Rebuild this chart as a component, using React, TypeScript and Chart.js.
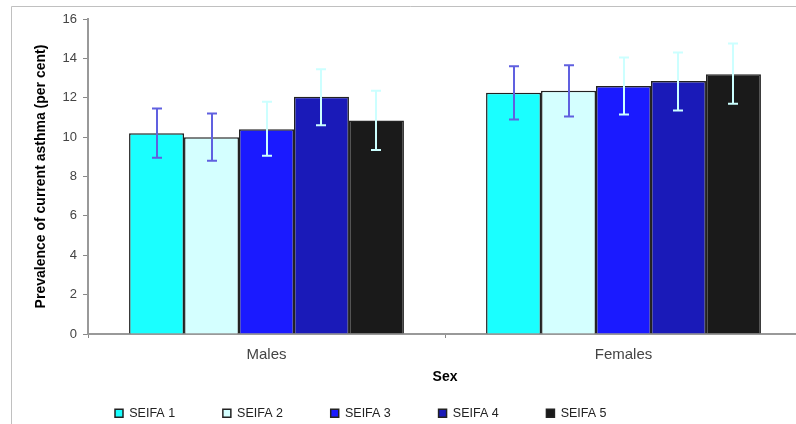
import React, { useEffect, useRef } from 'react';
import { Chart, registerables } from 'chart.js';

Chart.register(...registerables);

const categories = ['Males', 'Females'];
const seriesNames = ['SEIFA 1', 'SEIFA 2', 'SEIFA 3', 'SEIFA 4', 'SEIFA 5'];

const seifa1 = [10.2, 12.25];
const seifa2 = [10.0, 12.35];
const seifa3 = [10.4, 12.6];
const seifa4 = [12.05, 12.85];
const seifa5 = [10.85, 13.2];

const seifa1Low = [8.95, 10.9];
const seifa1High = [11.45, 13.6];
const seifa2Low = [8.8, 11.05];
const seifa2High = [11.2, 13.65];
const seifa3Low = [9.05, 11.15];
const seifa3High = [11.8, 14.05];
const seifa4Low = [10.6, 11.35];
const seifa4High = [13.45, 14.3];
const seifa5Low = [9.35, 11.7];
const seifa5High = [12.35, 14.75];

const yMin = 0;
const yMax = 16;
const yStep = 2;

const barColors = ['#1AFFFF', '#D4FFFF', '#1A1AFF', '#1A1AB8', '#1A1A1A'];
const errColors = ['#6060E0', '#6060E0', '#CCFFFF', '#CCFFFF', '#CCFFFF'];

const FONT = "'Liberation Sans', Arial, sans-serif";
const LEGEND_PAD = 47.75;

const errorBarPlugin = {
  id: 'errorBars',
  afterDatasetsDraw(chart: any) {
    const ctx = chart.ctx;
    const ys = chart.scales.y;
    chart.data.datasets.forEach((ds: any, di: number) => {
      const meta = chart.getDatasetMeta(di);
      meta.data.forEach((bar: any, i: number) => {
        const x = Math.round(bar.x);
        const yLo = ys.getPixelForValue(ds.errLow[i]);
        const yHi = ys.getPixelForValue(ds.errHigh[i]);
        ctx.save();
        ctx.strokeStyle = ds.errColor;
        ctx.lineWidth = 2;
        ctx.beginPath();
        ctx.moveTo(x, yLo);
        ctx.lineTo(x, yHi);
        ctx.moveTo(x - 5, yLo);
        ctx.lineTo(x + 5, yLo);
        ctx.moveTo(x - 5, yHi);
        ctx.lineTo(x + 5, yHi);
        ctx.stroke();
        ctx.restore();
      });
    });
  },
};

const framePlugin = {
  id: 'frame',
  beforeDraw(chart: any) {
    const ctx = chart.ctx;
    ctx.save();
    ctx.fillStyle = '#ffffff';
    ctx.fillRect(0, 0, chart.width, chart.height);
    ctx.strokeStyle = '#c0c0c0';
    ctx.lineWidth = 1;
    ctx.beginPath();
    ctx.moveTo(11.5, chart.height);
    ctx.lineTo(11.5, 6.5);
    ctx.lineTo(chart.width, 6.5);
    ctx.stroke();
    ctx.restore();
  },
};

const legendPlacementPlugin = {
  id: 'legendPlacement',
  afterLayout(chart: any) {
    const lg = chart.legend;
    if (!lg) return;
    const w = lg.right - lg.left;
    lg.left = 115 - LEGEND_PAD;
    lg.right = lg.left + w;
    lg.top = 362 - (LEGEND_PAD - 45);
    lg.bottom = chart.height;
  },
};

export default function App() {
  const canvasRef = useRef<HTMLCanvasElement | null>(null);

  useEffect(() => {
    if (!canvasRef.current) return;
    const values = [seifa1, seifa2, seifa3, seifa4, seifa5];
    const lows = [seifa1Low, seifa2Low, seifa3Low, seifa4Low, seifa5Low];
    const highs = [seifa1High, seifa2High, seifa3High, seifa4High, seifa5High];
    const datasets = seriesNames.map((name, i) => ({
      label: name,
      data: values[i],
      backgroundColor: barColors[i],
      borderColor: '#222222',
      borderWidth: 1.5,
      errLow: lows[i],
      errHigh: highs[i],
      errColor: errColors[i],
      categoryPercentage: 0.77,
      barPercentage: 1.0,
    }));

    const chart = new Chart(canvasRef.current, {
      type: 'bar',
      data: { labels: categories, datasets: datasets as any },
      options: {
        responsive: false,
        animation: false,
        devicePixelRatio: 1,
        layout: { padding: { left: 30, right: 8, top: 19, bottom: 0 } },
        plugins: {
          tooltip: { enabled: false },
          legend: {
            position: 'bottom',
            align: 'start',
            maxHeight: 30,
            labels: {
              boxWidth: 8,
              boxHeight: 8,
              padding: LEGEND_PAD,
              color: '#222222',
              font: { family: FONT, size: 12.5 },
            },
          },
        },
        scales: {
          x: {
            grid: {
              display: true,
              drawOnChartArea: false,
              drawTicks: true,
              tickLength: 4,
              color: '#888888',
              lineWidth: 1,
            },
            border: { display: true, color: '#999999', width: 2 },
            ticks: {
              color: '#444444',
              font: { family: FONT, size: 15 },
              padding: 7.5,
            },
            title: {
              display: true,
              text: 'Sex',
              color: '#000000',
              font: { family: FONT, size: 14, weight: 'bold' },
              padding: { top: 4, bottom: 8 },
            },
            afterFit: (scale: any) => {
              scale.height = 60;
            },
          },
          y: {
            min: yMin,
            max: yMax,
            grid: {
              display: true,
              drawOnChartArea: false,
              drawTicks: true,
              tickLength: 5,
              color: '#888888',
              lineWidth: 1,
            },
            border: { display: true, color: '#999999', width: 2 },
            ticks: {
              stepSize: yStep,
              color: '#444444',
              font: { family: FONT, size: 13 },
              padding: 6,
            },
            title: {
              display: true,
              text: 'Prevalence of current asthma (per cent)',
              color: '#000000',
              font: { family: FONT, size: 14, weight: 'bold' },
              padding: { top: 3, bottom: 4 },
            },
            afterFit: (scale: any) => {
              scale.width = 58;
            },
          },
        },
      },
      plugins: [framePlugin, errorBarPlugin, legendPlacementPlugin],
    });
    return () => chart.destroy();
  }, []);

  return (
    <div
      style={{
        position: 'fixed',
        left: 0,
        top: 0,
        width: 796,
        height: 424,
        overflow: 'hidden',
        background: '#ffffff',
      }}
    >
      <canvas
        ref={canvasRef}
        width={810}
        height={424}
        style={{ display: 'block', width: 810, height: 424 }}
      />
    </div>
  );
}
